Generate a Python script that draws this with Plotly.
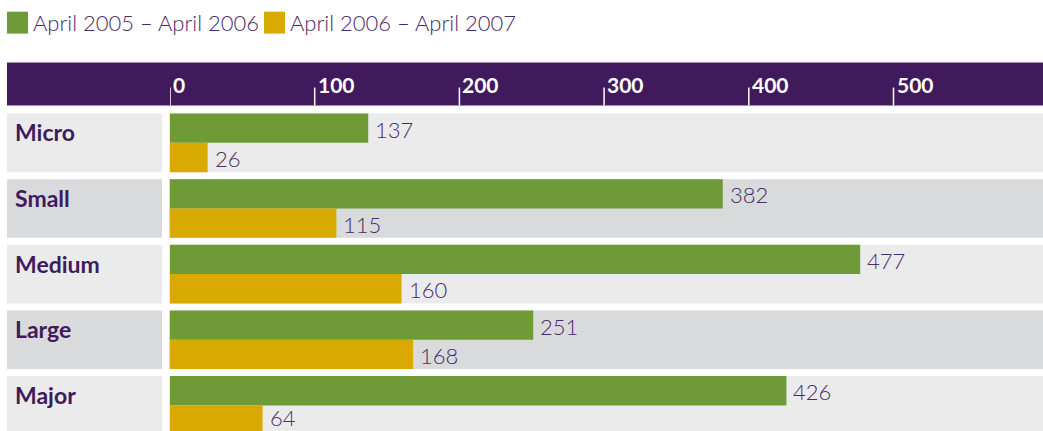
import plotly.graph_objects as go

categories = ["Micro", "Small", "Medium", "Large", "Major"]
series_names = ["April 2005 – April 2006", "April 2006 – April 2007"]
values_2005_06 = [137, 382, 477, 251, 426]
values_2006_07 = [26, 115, 160, 168, 64]
tick_values = [0, 100, 200, 300, 400, 500]

GREEN = "#6e9a37"
GOLD = "#d8a900"
PURPLE = "#401a5c"
TEXT_PURPLE = "#4a2b6b"
LIGHT = "#ebebeb"
DARK = "#d9dadc"
FONT = "Lato, 'Open Sans', sans-serif"

W, H = 1043, 431
L = 170
TOP = 109.5
plot_w = W - L
plot_h = H - TOP
XMAX = plot_w / 1.447
pitch = 65.75
YBOT = -0.5 + plot_h / pitch


def xp(px):
    return (px - L) / plot_w


def yp(py):
    return (H - py) / plot_h


fig = go.Figure()
for name, vals, col in [(series_names[0], values_2005_06, GREEN),
                        (series_names[1], values_2006_07, GOLD)]:
    fig.add_trace(go.Bar(
        y=categories, x=vals, name=name, orientation="h",
        marker=dict(color=col, line=dict(width=0)),
        showlegend=False, hoverinfo="x+name",
    ))

shapes = []
annotations = []
gap = 7 / pitch
band = 1 - gap
n = len(categories)
for i, cat in enumerate(categories):
    col = LIGHT if i % 2 == 0 else DARK
    y0 = i - 0.5 + gap / 2
    y1 = i + 0.5 - gap / 2
    shapes.append(dict(type="rect", xref="paper", yref="y", x0=xp(169), x1=1,
                       y0=y0, y1=y1, fillcolor=col, line=dict(width=0), layer="below"))
    shapes.append(dict(type="rect", xref="paper", yref="y", x0=xp(7), x1=xp(162),
                       y0=y0, y1=y1, fillcolor=col, line=dict(width=0), layer="below"))
    annotations.append(dict(text=f"<b>{cat}</b>", xref="paper", yref="y", x=xp(13), y=y0,
                            xanchor="left", yanchor="top", yshift=-3, showarrow=False,
                            font=dict(family=FONT, size=23, color=PURPLE)))
    # value labels, placed at the data value via the x axis scale
    for k, vals in enumerate([values_2005_06, values_2006_07]):
        yc = i + (k - 0.5) * band / 2
        last = (i == n - 1 and k == 1)
        annotations.append(dict(text=str(vals[i]), xref="x", yref="y", x=vals[i], y=yc,
                                xanchor="left", yanchor="middle", xshift=5,
                                yshift=3 if last else -1,
                                showarrow=False,
                                font=dict(family=FONT, size=22, color=TEXT_PURPLE, weight=300)))

# header band
shapes.append(dict(type="rect", xref="paper", yref="paper", x0=xp(7), x1=1,
                   y0=yp(105), y1=yp(62), fillcolor=PURPLE, line=dict(width=0)))
for t in tick_values:
    shapes.append(dict(type="line", xref="x", yref="paper", x0=t, x1=t,
                       y0=yp(105), y1=yp(87), line=dict(color="white", width=1.5)))
    annotations.append(dict(text=f"<b>{t}</b>", xref="x", yref="paper", x=t, y=yp(84),
                            xanchor="left", yanchor="middle", xshift=1, showarrow=False,
                            font=dict(family=FONT, size=21, color="white")))

# legend
legend_items = [(series_names[0], GREEN, 7), (series_names[1], GOLD, 264)]
for name, col, x0 in legend_items:
    shapes.append(dict(type="rect", xref="paper", yref="paper", x0=xp(x0), x1=xp(x0 + 21),
                       y0=yp(33), y1=yp(11), fillcolor=col, line=dict(width=0)))
    annotations.append(dict(text=name, xref="paper", yref="paper", x=xp(x0 + 24), y=yp(22),
                            xanchor="left", yanchor="middle", showarrow=False,
                            font=dict(family=FONT, size=22, color=TEXT_PURPLE, weight=300)))

fig.update_layout(
    width=W, height=H,
    margin=dict(l=L, r=0, t=TOP, b=0, pad=0),
    barmode="group", bargap=gap, bargroupgap=0,
    paper_bgcolor="white", plot_bgcolor="white",
    xaxis=dict(range=[0, XMAX], showgrid=False, zeroline=False, showticklabels=False,
               ticks="", showline=False, fixedrange=True),
    yaxis=dict(range=[YBOT, -0.5], showgrid=False, zeroline=False, showticklabels=False,
               ticks="", showline=False, fixedrange=True),
    shapes=shapes, annotations=annotations,
    showlegend=False,
)

fig.write_html(
    "out.html",
    config={"displayModeBar": False},
    post_script="document.body.style.margin='0';document.body.style.overflow='hidden';",
)
